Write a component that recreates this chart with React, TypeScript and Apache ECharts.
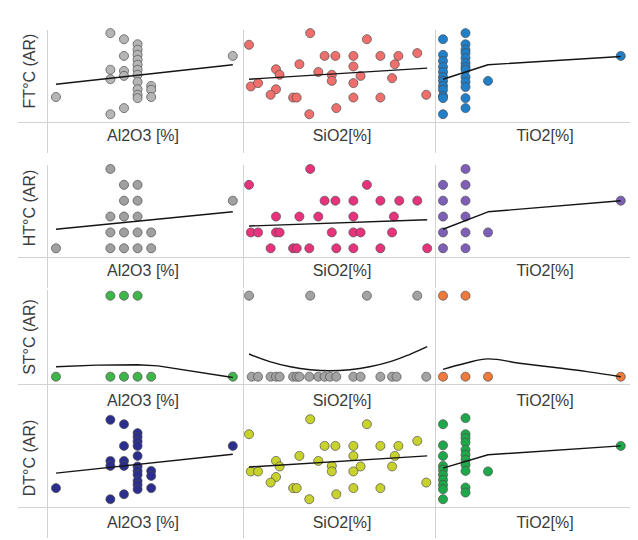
import React, { useEffect, useRef } from "react";
import * as echarts from "echarts";

const colLabels = ["Al2O3 [%]", "SiO2[%]", "TiO2[%]"];
const rowLabels = ["FT°C (AR)", "HT°C (AR)", "ST°C (AR)", "DT°C (AR)"];

const xRanges = [[15.34, 29.75], [37.33, 58.67], [0.4644, 1.331]];
const yRanges = [[1240, 1405.6], [1304.5, 1362.5], [1267.3, 1302.1], [1250, 1419.2]];

// Row 1: FT
const ftAl = [[20,1400],[21,1389],[22,1380],[22,1370],[22,1361],[22,1352],[22,1343],[22,1334],[22,1325],[22,1312],[22,1299],[22,1289],[22,1283],[21,1359],[20,1334],[20,1317],[21,1332],[21,1323],[23,1305],[23,1298],[23,1285],[16,1285],[20,1254],[21,1265],[29,1359]];
const ftAlFit = [[16,1308],[29,1343]];
const ftSi = [[38.0,1379],[44.8,1400],[51.1,1389],[46.4,1359],[47.6,1359],[49.6,1359],[52.6,1359],[54.6,1359],[56.7,1364],[43.6,1344],[54.2,1344],[49.6,1340],[41.0,1335],[41.4,1325],[45.7,1330],[47.2,1325],[47.2,1314],[50.4,1323],[53.9,1319],[49.6,1310],[38.2,1304],[39.0,1310],[41.0,1299],[40.4,1289],[42.9,1284],[43.3,1284],[49.6,1284],[52.6,1284],[57.7,1289],[47.7,1265],[44.7,1254]];
const ftSiFit = [[38,1317],[57.8,1337]];
const ftTi = [[0.5,1389],[0.5,1361],[0.5,1350],[0.5,1339],[0.5,1330],[0.5,1321],[0.5,1314],[0.5,1305],[0.5,1298],[0.5,1287],[0.5,1283],[0.5,1254],[0.6,1400],[0.6,1380],[0.6,1370],[0.6,1364],[0.6,1355],[0.6,1346],[0.6,1339],[0.6,1334],[0.6,1321],[0.6,1312],[0.6,1303],[0.6,1283],[0.6,1265],[0.7,1314],[1.29,1359]];
const ftTiFit = [[0.5,1317],[0.7,1343],[1.29,1358]];

// Row 2: HT
const htAl = [[20,1360],[21,1350],[22,1350],[21,1340],[22,1340],[20,1330],[21,1330],[22,1330],[20,1320],[21,1320],[22,1320],[23,1320],[16,1310],[20,1310],[21,1310],[22,1310],[23,1310],[29,1340]];
const htAlFit = [[16,1322],[29,1333]];
const htSi = [[38.0,1350],[44.8,1360],[51.1,1350],[46.4,1340],[47.6,1340],[49.6,1340],[52.6,1340],[54.7,1340],[56.7,1340],[41.0,1330],[43.6,1330],[45.7,1330],[49.6,1330],[54.1,1330],[38.2,1320],[39.0,1320],[41.0,1320],[41.4,1320],[47.2,1320],[49.6,1320],[50.4,1320],[53.9,1320],[40.4,1310],[42.9,1310],[43.3,1310],[44.7,1310],[47.7,1310],[49.6,1310],[52.6,1310],[57.8,1310]];
const htSiFit = [[38,1324],[57.8,1328]];
const htTi = [[0.5,1350],[0.5,1340],[0.5,1330],[0.5,1320],[0.5,1310],[0.6,1360],[0.6,1350],[0.6,1340],[0.6,1330],[0.6,1320],[0.6,1310],[0.7,1320],[1.29,1340]];
const htTiFit = [[0.5,1322],[0.7,1333],[1.29,1340]];

// Row 3: ST
const stAl = [[20,1300],[21,1300],[22,1300],[16,1270],[20,1270],[21,1270],[22,1270],[23,1270],[29,1270]];
const stAlFit = [[16,1273.7],[19,1274.3],[22,1274.4],[23.5,1274],[29,1269.7]];
const stSi = [[38.0,1300],[44.8,1300],[51.1,1300],[56.7,1300],[38.3,1270],[39.0,1270],[40.4,1270],[41.0,1270],[41.4,1270],[42.9,1270],[43.3,1270],[43.6,1270],[44.7,1270],[45.7,1270],[46.4,1270],[47.0,1270],[47.7,1270],[49.6,1270],[50.4,1270],[52.6,1270],[53.9,1270],[54.4,1270],[57.7,1270]];
const stSiFit = [[38,1278.4],[40.3,1275.6],[42.6,1273.7],[44.8,1272.6],[47,1272.2],[49.2,1272.6],[51.4,1273.7],[53.7,1275.6],[55.9,1278.3],[57.8,1281.1]];
const stTi = [[0.5,1300],[0.6,1300],[0.5,1270],[0.6,1270],[0.7,1270],[1.29,1270]];
const stTiFit = [[0.5,1272.7],[0.6,1275],[0.7,1276.6],[0.84,1275],[0.99,1273.5],[1.14,1271.9],[1.29,1270]];

// Row 4: DT
const dtAl = [[20,1407],[21,1399],[22,1383],[22,1376],[22,1368],[22,1360],[22,1342],[22,1323],[22,1315],[22,1308],[22,1297],[22,1290],[22,1282],[21,1360],[21,1333],[21,1324],[20,1333],[20,1324],[23,1315],[23,1306],[23,1284],[16,1284],[20,1264],[21,1273],[29,1360]];
const dtAlFit = [[16,1311],[29,1345]];
const dtSi = [[38.0,1381],[44.8,1408],[51.1,1399],[46.4,1360],[47.6,1360],[49.6,1360],[52.6,1360],[54.6,1360],[56.7,1369],[43.6,1342],[54.2,1342],[49.6,1342],[41.0,1333],[41.4,1323],[45.7,1333],[47.2,1324],[47.2,1314],[50.4,1323],[53.9,1323],[49.6,1314],[38.2,1314],[39.0,1314],[41.0,1304],[40.4,1294],[42.9,1284],[43.3,1284],[49.6,1284],[52.6,1284],[57.7,1294],[47.7,1273],[44.7,1264]];
const dtSiFit = [[38,1322],[57.8,1342]];
const dtTi = [[0.5,1399],[0.5,1361],[0.5,1342],[0.5,1324],[0.5,1317],[0.5,1308],[0.5,1299],[0.5,1290],[0.5,1282],[0.5,1264],[0.6,1410],[0.6,1381],[0.6,1374],[0.6,1366],[0.6,1353],[0.6,1344],[0.6,1335],[0.6,1326],[0.6,1315],[0.6,1285],[0.6,1276],[0.7,1314],[1.29,1360]];
const dtTiFit = [[0.5,1320],[0.7,1344],[1.29,1360]];

const points = [
  [ftAl, ftSi, ftTi],
  [htAl, htSi, htTi],
  [stAl, stSi, stTi],
  [dtAl, dtSi, dtTi],
];
const fits = [
  [ftAlFit, ftSiFit, ftTiFit],
  [htAlFit, htSiFit, htTiFit],
  [stAlFit, stSiFit, stTiFit],
  [dtAlFit, dtSiFit, dtTiFit],
];
const fitSmooth = [
  [false, false, false],
  [false, false, false],
  [false, true, true],
  [false, false, false],
];

const colors = [
  ["#b5b5b5", "#ef6f6c", "#1f7fc8"],
  ["#a0a0a0", "#e8327c", "#7d5fb8"],
  ["#3fb54a", "#a3a3a3", "#ef7a3b"],
  ["#2c2e8e", "#c8d22c", "#1ea84a"],
];

const FONT = "'Liberation Sans', Arial, sans-serif";
const TEXT = "#3a3a3a";
const LINE = "#d2d2d2";

const colLeft = [47, 243, 435];
const colWidth = [196, 192, 195];
const rowTop = [30, 165, 290, 413];
const rowHeight = [92, 92, 94, 94];
const xNameGap = [5, 5, 8, 7];
const yNamePad = [[0, 0, 0, 10], [0, 0, 0, 6], [0, 0, 0, 0], [0, 0, 0, 4]];
const xNamePad = [[0, 4, 0, 0], [0, 0, 0, 6], [0, 0, 0, 25]];

export default function App() {
  const ref = useRef<HTMLDivElement>(null);
  useEffect(() => {
    if (!ref.current) return;
    const chart = echarts.init(ref.current, null, { renderer: "svg" });
    const grid: any[] = [];
    const xAxis: any[] = [];
    const yAxis: any[] = [];
    const series: any[] = [];
    const graphic: any[] = [];
    for (let r = 0; r < 4; r++) {
      const bottom = rowTop[r] + rowHeight[r];
      graphic.push({
        type: "line",
        shape: { x1: 18, y1: bottom + 0.5, x2: 630, y2: bottom + 0.5 },
        style: { stroke: LINE, lineWidth: 1 },
        silent: true,
      });
      for (let c = 0; c < 3; c++) {
        const idx = r * 3 + c;
        graphic.push({
          type: "line",
          shape: { x1: colLeft[c] + 0.5, y1: rowTop[r], x2: colLeft[c] + 0.5, y2: bottom + 31 },
          style: { stroke: LINE, lineWidth: 1 },
          silent: true,
        });
        grid.push({ left: colLeft[c], top: rowTop[r], width: colWidth[c], height: rowHeight[r] });
        xAxis.push({
          gridIndex: idx,
          type: "value",
          min: xRanges[c][0],
          max: xRanges[c][1],
          axisLine: { show: false },
          axisTick: { show: false },
          axisLabel: { show: false },
          splitLine: { show: false },
          name: colLabels[c],
          nameLocation: "middle",
          nameGap: xNameGap[r],
          nameTextStyle: { fontSize: 16, color: TEXT, fontFamily: FONT, padding: xNamePad[c] },
        });
        yAxis.push({
          gridIndex: idx,
          type: "value",
          min: yRanges[r][0],
          max: yRanges[r][1],
          axisLine: { show: false },
          axisTick: { show: false },
          axisLabel: { show: false },
          splitLine: { show: false },
          name: c === 0 ? rowLabels[r] : "",
          nameLocation: "middle",
          nameGap: 10,
          nameRotate: 90,
          nameTextStyle: { fontSize: 16, color: TEXT, fontFamily: FONT, padding: yNamePad[r] },
        });
        series.push({
          type: "scatter",
          xAxisIndex: idx,
          yAxisIndex: idx,
          data: points[r][c],
          symbolSize: 9,
          itemStyle: { color: colors[r][c], borderColor: "#4a4a4a", borderWidth: 0.7, opacity: 1 },
          z: 2,
        });
        series.push({
          type: "line",
          xAxisIndex: idx,
          yAxisIndex: idx,
          data: fits[r][c],
          showSymbol: false,
          symbol: "none",
          smooth: fitSmooth[r][c] ? 0.4 : false,
          lineStyle: { color: "#151515", width: 1.4 },
          z: 3,
        });
      }
    }
    chart.setOption({
      animation: false,
      backgroundColor: "#ffffff",
      grid,
      xAxis,
      yAxis,
      series,
      graphic,
    });
    return () => chart.dispose();
  }, []);
  return (
    <div
      ref={ref}
      style={{ position: "fixed", left: 0, top: 0, width: 638, height: 540, background: "#fff" }}
    />
  );
}
